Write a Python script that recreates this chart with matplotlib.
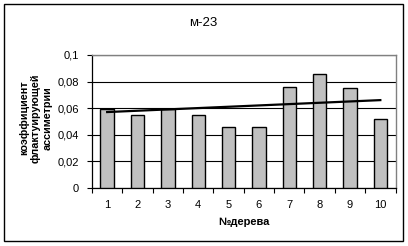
import matplotlib
matplotlib.use("Agg")
import matplotlib.pyplot as plt
from matplotlib.patches import Rectangle

plt.rcParams['font.family'] = ['Liberation Sans', 'DejaVu Sans']

categories = ['1', '2', '3', '4', '5', '6', '7', '8', '9', '10']
values = [0.059, 0.055, 0.059, 0.055, 0.046, 0.046, 0.076, 0.086, 0.075, 0.052]
trend_x = [1, 10]
trend_y = [0.057, 0.066]
yticks = [0, 0.02, 0.04, 0.06, 0.08, 0.1]
ytick_labels = ['0', '0,02', '0,04', '0,06', '0,08', '0,1']

W, H = 408, 246
fig = plt.figure(figsize=(W / 100, H / 100), dpi=100)
fig.patch.set_facecolor('white')

ax = fig.add_axes([92 / W, 1 - 187.7 / H, (395.5 - 92) / W, (187.7 - 55) / H])
x = list(range(1, len(categories) + 1))
ax.bar(x, values, width=0.44, color='#C0C0C0', edgecolor='black', linewidth=1.0, zorder=3)
ax.plot(trend_x, trend_y, color='black', linewidth=1.6, zorder=4)

ax.set_xlim(0.5, len(categories) + 0.5)
ax.set_ylim(0, 0.1)
ax.set_yticks(yticks)
ax.set_yticklabels(ytick_labels)
ax.yaxis.grid(True, color='black', linewidth=0.8, zorder=1)
ax.set_axisbelow(True)

ax.set_xticks(x)
ax.set_xticklabels(categories)
ax.set_xticks([i + 0.5 for i in range(0, len(categories) + 1)], minor=True)
ax.tick_params(axis='x', which='major', length=0, pad=9, labelsize=8)
ax.tick_params(axis='x', which='minor', length=3.5, width=0.8, direction='out')
ax.tick_params(axis='y', length=3.5, width=0.8, direction='out', pad=6, labelsize=8)

for s in ['top', 'right']:
    ax.spines[s].set_color('#808080')
    ax.spines[s].set_linewidth(1.0)
for s in ['left', 'bottom']:
    ax.spines[s].set_color('black')
    ax.spines[s].set_linewidth(0.9)

fig.text(203 / W, 1 - 23 / H, 'м-23', ha='center', va='center', fontsize=9.5)
fig.text(243.7 / W, 1 - 222 / H, '№дерева', ha='center', va='center', fontsize=8,
         fontweight='bold')
fig.text(36 / W, 1 - 118 / H, 'коэффициент\nфлактуирующей\nассиметрии', ha='center',
         va='center', rotation=90, fontsize=7.8, fontweight='bold', linespacing=1.2,
         multialignment='center')

fig.patches.append(Rectangle((4 / W, 1 - 240.5 / H), (402.5 - 4) / W, (240.5 - 4) / H,
                             transform=fig.transFigure, fill=False, edgecolor='black',
                             linewidth=1.0))

fig.savefig('out.png', dpi=100)
